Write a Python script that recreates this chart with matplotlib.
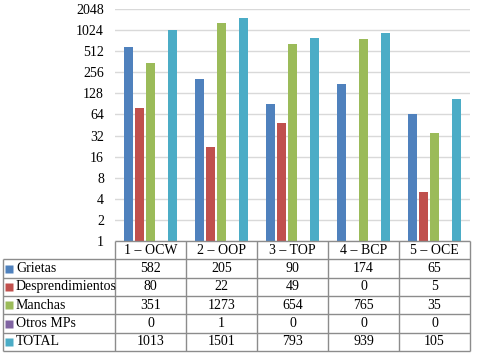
import matplotlib.pyplot as plt
import numpy as np

plt.rcParams['font.family'] = ['Liberation Serif', 'DejaVu Serif']

# data
groups = ['1 – OCW', '2 – OOP', '3 – TOP', '4 – BCP', '5 – OCE']
series = ['Grietas', 'Desprendimientos', 'Manchas', 'Otros MPs', 'TOTAL']
grietas = [582, 205, 90, 174, 65]
desprendimientos = [80, 22, 49, 0, 5]
manchas = [351, 1273, 654, 765, 35]
otros_mps = [0, 1, 0, 0, 0]
total = [1013, 1501, 793, 939, 105]
yticks = [1, 2, 4, 8, 16, 32, 64, 128, 256, 512, 1024, 2048]

values = [grietas, desprendimientos, manchas, otros_mps, total]
colors = ['#4F81BD', '#C0504D', '#9BBB59', '#8064A2', '#4BACC6']

W, H = 481, 355
fig = plt.figure(figsize=(W / 100, H / 100), dpi=100)

# bar chart (log2 scale, bars start at 1 like Excel)
ax = fig.add_axes([115 / W, 1 - 241 / H, 355 / W, 232 / H])
ax.set_yscale('log', base=2)
x = np.arange(len(groups))
slot, bw = 0.152, 0.127
for j, (vals, c) in enumerate(zip(values, colors)):
    v = np.maximum(np.array(vals, dtype=float), 1)
    ax.bar(x + (j - 2) * slot, v - 1, bottom=1, width=bw, color=c, zorder=3)
ax.set_xlim(-0.5, len(groups) - 0.5)
ax.set_ylim(1, 2048)
ax.set_yticks(yticks)
ax.set_yticklabels([str(t) for t in yticks])
ax.yaxis.set_minor_locator(plt.NullLocator())
ax.set_xticks([])
ax.tick_params(axis='y', length=0, pad=8, labelsize=10)
ax.yaxis.grid(True, color='#D9D9D9', lw=1)
ax.set_axisbelow(True)
for s in ax.spines.values():
    s.set_visible(False)

# data table below
tx = fig.add_axes([3 / W, 1 - 351 / H, 467 / W, 110 / H])
xl = -0.5 - 112 / 71
nrows = len(series) + 1
tx.set_xlim(xl, len(groups) - 0.5)
tx.set_ylim(nrows, 0)
tx.axis('off')
lc = '#8C8C8C'
tx.hlines(0, -0.5, len(groups) - 0.5, color=lc, lw=1, clip_on=False)
for r in range(1, nrows + 1):
    tx.hlines(r, xl, len(groups) - 0.5, color=lc, lw=1, clip_on=False)
for k in range(len(groups) + 1):
    tx.vlines(-0.5 + k, 0, nrows, color=lc, lw=1, clip_on=False)
tx.vlines(xl, 1, nrows, color=lc, lw=1, clip_on=False)

for i, g in enumerate(groups):
    tx.text(i, 0.5, g, ha='center', va='center', fontsize=10)
for r, (name, vals, c) in enumerate(zip(series, values, colors), start=1):
    tx.plot(xl + 6 / 71, r + 0.5, marker='s', ms=5.2, color=c, mec='none', clip_on=False)
    tx.text(xl + 13 / 71, r + 0.5, name, ha='left', va='center', fontsize=10)
    for i, v in enumerate(vals):
        tx.text(i, r + 0.5, str(v), ha='center', va='center', fontsize=10)

fig.savefig('out.png', dpi=100)
